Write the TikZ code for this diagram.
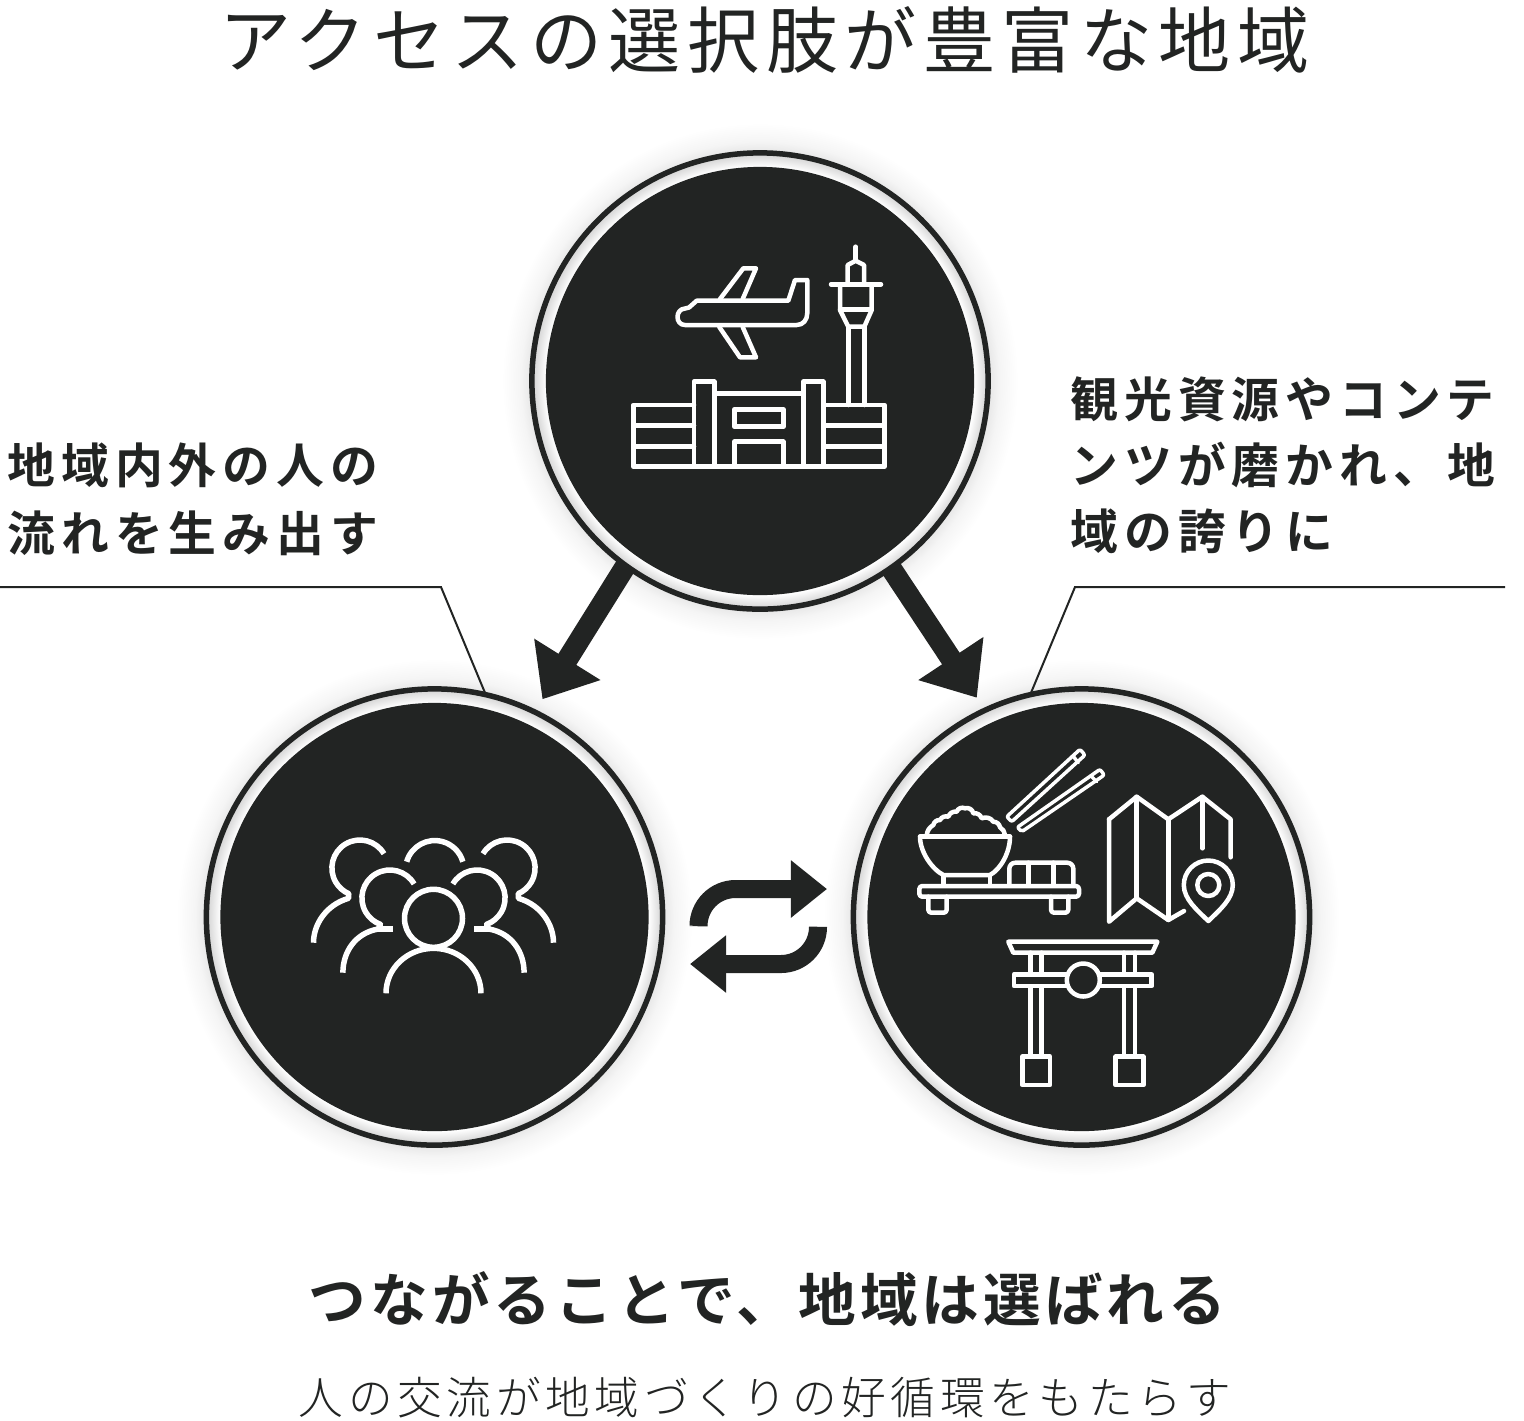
\documentclass[tikz,border=0pt]{standalone}
\usepackage{fontspec}
\usetikzlibrary{arrows.meta}
\newfontfamily\titlefont{Noto Sans CJK JP}[LetterSpace=9]
\newfontfamily\labelfont{Noto Sans CJK JP Bold}[LetterSpace=12.4]
\newfontfamily\headfont{Noto Sans CJK JP Bold}[LetterSpace=7]
\newfontfamily\subfont{Noto Sans CJK JP Light}[LetterSpace=10.5]
\definecolor{ink}{HTML}{222423}
\pgfdeclareradialshading{ringglow}{\pgfpointorigin}{color(0bp)=(white);color(23.46bp)=(white);color(25bp)=(black!18);color(50bp)=(black!18)}
\pgfdeclareradialshading{haloglow}{\pgfpointorigin}{color(0bp)=(black!9);color(22.3bp)=(black!9);color(23.2bp)=(black!4);color(25bp)=(white);color(50bp)=(white)}
\tikzset{
	ring/.style={circle,draw=ink,line width=.055cm,minimum size=4.56cm,outer sep=0pt,shading=ringglow},
	disc/.style={circle,fill=ink,minimum size=4.28cm,outer sep=0pt},
	halo/.style={shading=haloglow},
	flowarrow/.style={draw=ink,line width=.21cm,-{Triangle[length=.47cm,width=.75cm]},shorten >=.15cm},
	swaparrow/.style={draw=ink,line width=.18cm,rounded corners=.37cm,-{Triangle[length=.36cm,width=.55cm]}},
	callout/.style={draw=ink,line width=.02cm},
	icon/.style={draw=white,line width=.045cm,line join=round,line cap=round},
	thickicon/.style={icon,line width=.055cm,line cap=butt},
	textlabel/.style={inner sep=0pt,text=ink,align=left}
}

\begin{document}
\begin{tikzpicture}[x=.01cm,y=-.01cm]
	\useasboundingbox (0,0) rectangle (1524,1420);
	\fill[white] (0,0) rectangle (1524,1420);

	\shade[halo] (760,381) circle[radius=258];
	\shade[halo] (434.5,917) circle[radius=258];
	\shade[halo] (1081.5,917) circle[radius=258];

	\node[ring] (top) at (760,381) {};
	\node[ring] (left) at (434.5,917) {};
	\node[ring] (right) at (1081.5,917) {};
	\node[disc] (topdisc) at (top) {};
	\node[disc] (leftdisc) at (left) {};
	\node[disc] (rightdisc) at (right) {};

	\draw[flowarrow] (top.234.9) -- (left.64.7);
	\draw[flowarrow] (top.-55.5) -- (right.115.2);

	\coordinate (leftend) at (0,587);
	\coordinate (leftbend) at (441,587);
	\coordinate (rightend) at (1505,587);
	\coordinate (rightbend) at (1075,587);
	\draw[callout] (leftend) -- (leftbend) -- (left.77.3);
	\draw[callout] (rightend) -- (rightbend) -- (right.103);

	\coordinate (swapa) at (698.5,926);
	\coordinate (swapb) at (827,889);
	\coordinate (swapc) at (818,927);
	\coordinate (swapd) at (690,964);
	\draw[swaparrow] (swapa) |- (swapb);
	\draw[swaparrow] (swapc) |- (swapd);

	\node[textlabel,anchor=west,font={\fontsize{20.5}{24}\titlefont}] (title) at (219,40) {アクセスの選択肢が豊富な地域};
	\node[textlabel,anchor=west,font={\fontsize{13.6}{19.3}\labelfont}] (lefttext) at (7,499) {地域内外の人の\\流れを生み出す};
	\node[textlabel,anchor=west,font={\fontsize{13.6}{18.8}\labelfont}] (righttext) at (1070,465) {観光資源やコンテ\\ンツが磨かれ、地\\域の誇りに};
	\node[textlabel,anchor=west,font={\fontsize{16.4}{20}\headfont}] (headtext) at (308,1299) {つながることで、地域は選ばれる};
	\node[textlabel,anchor=west,font={\fontsize{12.7}{16}\subfont}] (subtext) at (298,1398) {人の交流が地域づくりの好循環をもたらす};

	\draw[icon] (696.7,300.7) -- (788.3,300.7) -- (795,280) -- (807.3,280) -- (807.3,313) .. controls (807.3,320) and (803,325) .. (796.7,325) -- (685,325) .. controls (675,325) and (675,309) .. (685,308.5) -- (689,307.5) -- cycle;
	\draw[icon] (720,299) -- (743.3,268.3) -- (756,268.3) -- (742.7,299);
	\draw[icon] (719.3,327) -- (740,357.3) -- (756,357.3) -- (742.7,327);
	\draw[icon] (855.7,246.7) -- (855.7,260.7);
	\draw[icon] (847.7,283.3) -- (847.7,265) -- (855.7,260.7) -- (864,265) -- (864,283.3);
	\draw[icon] (831,284.3) -- (881,284.3);
	\draw[icon] (840,285) -- (840,310) -- (848.3,326.7) -- (864.3,326.7) -- (871.7,310) -- (871.7,285);
	\draw[icon] (840,309.3) -- (871.7,309.3);
	\draw[icon] (848.3,326.7) -- (848.3,405);
	\draw[icon] (864.3,326.7) -- (864.3,405);
	\draw[icon] (694,405) -- (633.3,405) -- (633.3,466.7) -- (884.3,466.7) -- (884.3,405) -- (823.3,405);
	\draw[icon] (633.3,425.7) -- (694,425.7);
	\draw[icon] (633.3,446.7) -- (694,446.7);
	\draw[icon] (823.3,425.7) -- (884.3,425.7);
	\draw[icon] (823.3,446.7) -- (884.3,446.7);
	\draw[icon] (694,466.7) -- (694,381.7) -- (714.3,381.7) -- (714.3,466.7);
	\draw[icon] (803.3,466.7) -- (803.3,381.7) -- (823.3,381.7) -- (823.3,466.7);
	\draw[icon] (714.3,393.3) -- (803.3,393.3);
	\draw[icon] (734.3,409.3) rectangle (783.3,426.7);
	\draw[icon] (734.3,466.7) -- (734.3,441.7) -- (783.3,441.7) -- (783.3,466.7);

	\draw[thickicon] (433.5,918.3) circle[radius=29];
	\draw[thickicon] (386,993.3) arc[start angle=180,end angle=360,x radius=47.5,y radius=45];
	\draw[thickicon] (406.7,861.7) arc[start angle=-164,end angle=-16,radius=29.2];
	\foreach \flip in {1,-1} {
		\begin{scope}[shift={(433.5,0)},xscale=\flip]
			\draw[thickicon] (-73.6,868) ++(-30.7:28) arc[start angle=-30.7,end angle=-246.6,radius=28] -- (-85,898.3) .. controls (-108,905) and (-120,925) .. (-120,942.7);
			\draw[thickicon] (-43.6,898) ++(-30.2:28) arc[start angle=-30.2,end angle=-250.2,radius=28] -- (-55.3,929) .. controls (-78.3,933) and (-90.6,952) .. (-90.6,972.7);
			\draw[thickicon] (-40.6,929) -- (-55.3,929);
		\end{scope}
	}

	\draw[icon,rounded corners=.03cm] (919.3,886) rectangle (1079,896.7);
	\draw[icon,rounded corners=.03cm] (928.3,896.7) -- (928.3,912.7) -- (946.7,912.7) -- (946.7,896.7);
	\draw[icon,rounded corners=.03cm] (1051,896.7) -- (1051,912.7) -- (1068.3,912.7) -- (1068.3,896.7);
	\draw[icon] (920,836.7) -- (1010,836.7);
	\draw[icon] (920,836.7) .. controls (920,852) and (932,869) .. (943.3,875) -- (990,875) .. controls (1001,869) and (1010,852) .. (1010,836.7);
	\draw[icon] (943.3,875) -- (943.3,885);
	\draw[icon] (990,875) -- (990,885);
	\draw[icon] (926.7,835) to[bend left=25] (933.3,825) to[bend left=40] (940,820) to[bend left=40] (948.3,816.7) to[bend left=40] (956.7,811.7) to[bend left=50] (965,808.3) to[bend left=50] (973.3,813.3) to[bend left=40] (981.7,818.3) to[bend left=40] (993.3,821.7) to[bend left=40] (1000,827.3) to[bend left=25] (1005,835);
	\draw[icon,rounded corners=.06cm] (1009.3,885) -- (1009.3,862.7) -- (1073.3,862.7) -- (1073.3,885);
	\draw[icon] (1028.3,862.7) -- (1028.3,885);
	\draw[icon] (1053.3,862.7) -- (1053.3,885);

	\draw[icon,line width=.035cm,rounded corners=.02cm] (1080,749.3) -- (1085,755) -- (1011.7,821.7) -- (1006.7,816.7) -- cycle;
	\draw[icon,line width=.035cm] (1074,757.3) -- (1078.3,762.7);
	\draw[icon,line width=.035cm,rounded corners=.02cm] (1100,769.3) -- (1104.3,775) -- (1021.7,831.7) -- (1017.3,827.3) -- cycle;
	\draw[icon,line width=.035cm] (1091.7,776.7) -- (1096.7,781.7);

	\draw[icon] (1109,819.3) -- (1136.7,796.7) -- (1168.3,819.3) -- (1202.3,796.7) -- (1230.7,819.3) -- (1230.7,857.3);
	\draw[icon] (1109,819.3) -- (1109,921.7) -- (1136.7,898.3) -- (1168.3,920) -- (1184,911);
	\draw[icon] (1136.7,796.7) -- (1136.7,898.3);
	\draw[icon] (1168.3,819.3) -- (1168.3,920);
	\draw[icon] (1202.3,796.7) -- (1202.3,848.3);
	\draw[icon] (1208.3,921) .. controls (1197,910) and (1183.8,899) .. (1183.8,885) .. controls (1183.8,871.5) and (1194.8,860.5) .. (1208.3,860.5) .. controls (1221.8,860.5) and (1232.8,871.5) .. (1232.8,885) .. controls (1232.8,899) and (1219.6,910) .. (1208.3,921) -- cycle;
	\draw[icon] (1208.3,885) circle[radius=11];

	\draw[icon] (1008.3,941.7) -- (1157.3,941.7) -- (1152.3,952.7) -- (1013.3,952.7) -- cycle;
	\draw[icon] (1030.7,952.7) -- (1030.7,1056.7);
	\draw[icon] (1041.7,952.7) -- (1041.7,1056.7);
	\draw[icon] (1124,952.7) -- (1124,1056.7);
	\draw[icon] (1135,952.7) -- (1135,1056.7);
	\draw[icon,fill=ink] (1014,974.3) rectangle (1151.7,986);
	\draw[icon,fill=ink] (1083.3,980) circle[radius=16.5];
	\draw[icon] (1022.3,1056.7) rectangle (1050,1085);
	\draw[icon] (1115.7,1056.7) rectangle (1143.3,1085);
\end{tikzpicture}
\end{document}
